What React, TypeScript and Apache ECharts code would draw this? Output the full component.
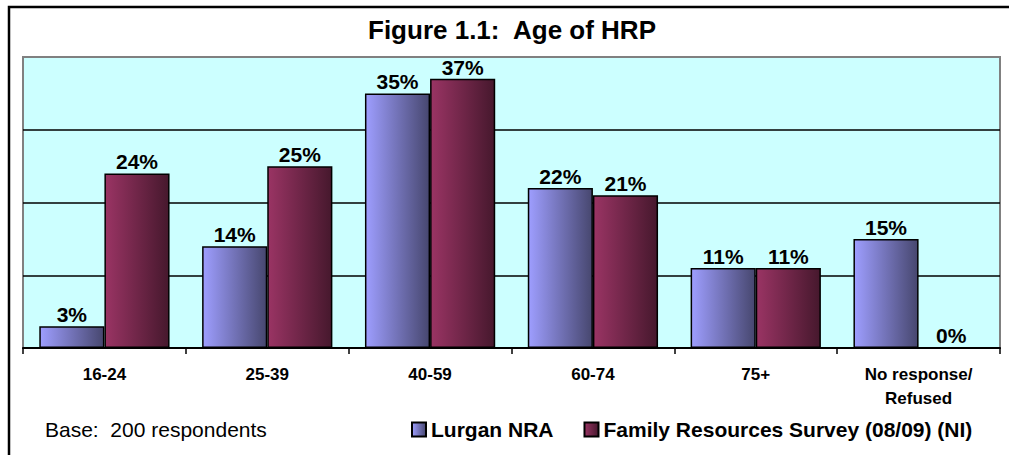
import React, { useEffect, useRef } from "react";
import * as echarts from "echarts";

const categories = ["16-24", "25-39", "40-59", "60-74", "75+", "No response/\nRefused"];
const lurganValues = [3, 14, 35, 22, 11, 15];
const frsValues = [24, 25, 37, 21, 11, 0];
const seriesNames = ["Lurgan NRA", "Family Resources Survey (08/09) (NI)"];
const titleText = "Figure 1.1:  Age of HRP";
const baseText = "Base:  200 respondents";

const FONT = "'Liberation Sans', Arial, Helvetica, sans-serif";

export default function App() {
  const ref = useRef<HTMLDivElement>(null);

  useEffect(() => {
    if (!ref.current) return;
    const chart = echarts.init(ref.current, undefined, { renderer: "svg" });

    const grad = (a: string, b: string) =>
      new echarts.graphic.LinearGradient(0, 0, 1, 0, [
        { offset: 0, color: a },
        { offset: 1, color: b },
      ]);

    const labelCfg = {
      show: true,
      position: "top" as const,
      distance: 1,
      formatter: "{c}%",
      color: "#000",
      fontFamily: FONT,
      fontWeight: "bold" as const,
      fontSize: 21,
    };

    chart.setOption({
      animation: false,
      backgroundColor: "#ffffff",
      grid: {
        left: 23,
        right: 9,
        top: 57,
        bottom: 107,
        show: true,
        backgroundColor: "#CCFFFF",
        borderColor: "#808080",
        borderWidth: 2,
      },
      legend: {
        left: 411,
        top: 419,
        padding: 0,
        itemWidth: 14,
        itemHeight: 14,
        itemGap: 30,
        icon: "rect",
        textStyle: {
          color: "#000",
          fontFamily: FONT,
          fontWeight: "bold",
          fontSize: 21,
        },
        data: seriesNames,
      },
      xAxis: {
        type: "category",
        data: categories,
        axisLine: { show: true, lineStyle: { color: "#000", width: 2 } },
        axisTick: { show: true, length: 6, lineStyle: { color: "#000", width: 1.5 } },
        axisLabel: {
          color: "#000",
          fontFamily: FONT,
          fontWeight: "bold",
          fontSize: 17,
          margin: 14,
          lineHeight: 24,
          interval: 0,
        },
      },
      yAxis: {
        type: "value",
        min: 0,
        max: 40,
        interval: 10,
        axisLabel: { show: false },
        axisLine: { show: false },
        axisTick: { show: false },
        splitLine: {
          show: true,
          showMaxLine: false,
          lineStyle: { color: "#000", width: 1.5 },
        },
      },
      series: [
        {
          name: seriesNames[0],
          type: "bar",
          data: lurganValues,
          barGap: "0%",
          barCategoryGap: "20%",
          itemStyle: {
            color: grad("#9E9EFF", "#47476F"),
            borderColor: "#000",
            borderWidth: 1.5,
          },
          label: labelCfg,
        },
        {
          name: seriesNames[1],
          type: "bar",
          data: frsValues,
          barGap: "0%",
          barCategoryGap: "20%",
          itemStyle: {
            color: grad("#9A3464", "#46182D"),
            borderColor: "#000",
            borderWidth: 1.5,
          },
          label: labelCfg,
        },
      ],
      graphic: [
        {
          type: "rect",
          shape: { x: 9, y: 7, width: 1010, height: 460 },
          style: { fill: "none", stroke: "#000", lineWidth: 2.5 },
          silent: true,
          z: 100,
        },
        {
          type: "text",
          x: 512,
          y: 30,
          style: {
            text: titleText,
            fill: "#000",
            font: `bold 26px ${FONT}`,
            textAlign: "center",
            textVerticalAlign: "middle",
          },
        },
        {
          type: "text",
          x: 45,
          y: 429,
          style: {
            text: baseText,
            fill: "#000",
            font: `21px ${FONT}`,
            textAlign: "left",
            textVerticalAlign: "middle",
          },
        },
      ],
    });

    return () => chart.dispose();
  }, []);

  return (
    <div
      ref={ref}
      style={{ position: "absolute", left: 0, top: 0, width: 1009, height: 455 }}
    />
  );
}
